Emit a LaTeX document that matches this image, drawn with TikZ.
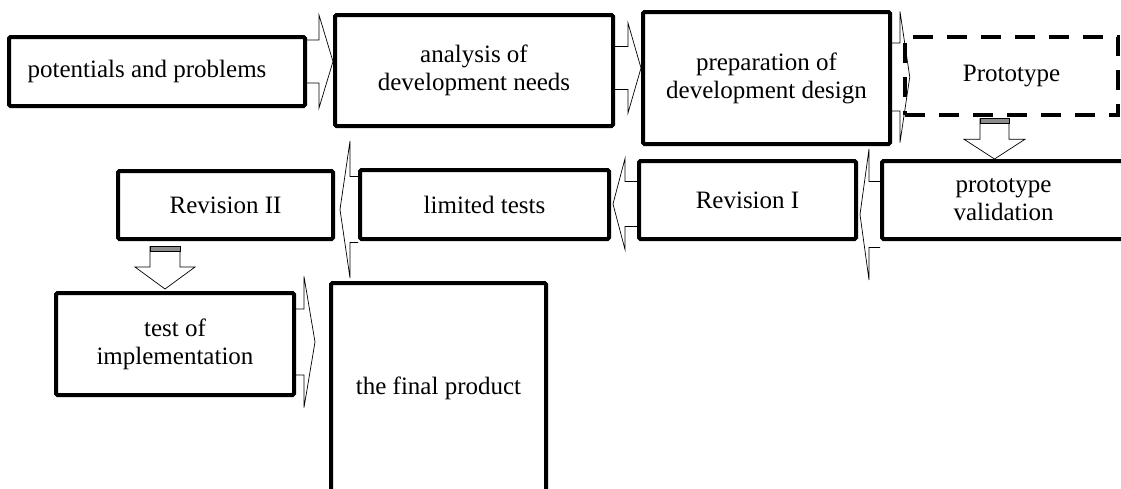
\documentclass[tikz,border=0pt]{standalone}
\usepackage{fontspec}
\setmainfont{Liberation Serif}
\usetikzlibrary{calc}
\pgfdeclarelayer{background}
\pgfsetlayers{background,main}

% block arrow pointing right: from, to, y centre, shaft half width, head half width, shaft length, gap at tip
\newcommand\arrowright[7]{%
  \coordinate (arr-s) at (#1.east |- 0,#3);
  \coordinate (arr-t) at (#2.west |- 0,#3);
  \draw[blockarrow] ($(arr-s)+(0,{-(#4)})$) -- ($(arr-s)+(#6,{-(#4)})$) -- ($(arr-s)+(#6,{-(#5)})$)
    -- ($(arr-t)+({-1*(#7)},0)$) -- ($(arr-s)+(#6,#5)$) -- ($(arr-s)+(#6,#4)$) -- ($(arr-s)+(0,#4)$);
}
% block arrow pointing left
\newcommand\arrowleft[7]{%
  \coordinate (arr-s) at (#1.west |- 0,#3);
  \coordinate (arr-t) at (#2.east |- 0,#3);
  \draw[blockarrow] ($(arr-s)+(0,{-(#4)})$) -- ($(arr-s)+({-1*(#6)},{-(#4)})$) -- ($(arr-s)+({-1*(#6)},{-(#5)})$)
    -- ($(arr-t)+(#7,0)$) -- ($(arr-s)+({-1*(#6)},#5)$) -- ($(arr-s)+({-1*(#6)},#4)$) -- ($(arr-s)+(0,#4)$);
}
% block arrow pointing down: from, to, x centre, shaft half width, head half width, start offset, shaft length, gap at tip
\newcommand\arrowdown[8]{%
  \coordinate (arr-s) at (#1.south -| #3,0);
  \coordinate (arr-t) at (#2.north -| #3,0);
  \draw[blockarrow] ($(arr-s)+({-(#4)},#6)$) -- ($(arr-s)+({-(#4)},#6+#7)$) -- ($(arr-s)+({-(#5)},#6+#7)$)
    -- ($(arr-t)+(0,{-1*(#8)})$) -- ($(arr-s)+(#5,#6+#7)$) -- ($(arr-s)+(#4,#6+#7)$) -- ($(arr-s)+(#4,#6)$);
  \draw[stripe] ($(arr-s)+({-(#4)},#6)$) rectangle ($(arr-s)+(#4,#6+5)$);
}

\begin{document}
\begin{tikzpicture}[x=1pt,y=-1pt,
  stage/.style={draw, line width=4pt, rounded corners=1.5pt, inner sep=0pt,
    align=center, font=\fontsize{25}{28}\selectfont},
  dashstage/.style={stage, rounded corners=0pt, line width=4.5pt, dash pattern=on 20pt off 14pt},
  blockarrow/.style={draw, fill=white, line width=0.7pt, line join=miter},
  stripe/.style={draw, fill=black!45, line width=0.6pt}]
\useasboundingbox (0,0) rectangle (1121,488);
\clip (0,0) rectangle (1121,488);

% process stages
\node[stage, minimum width=296pt, minimum height=69pt] (b1) at (157,71.5) {potentials and problems\hspace*{20pt}};
\node[stage, minimum width=278pt, minimum height=111pt] (b2) at (474,70.5) {analysis of\\development needs};
\node[stage, minimum width=247pt, minimum height=132pt] (b3) at (766.5,78) {preparation of\\development design};
\node[dashstage, minimum width=213pt, minimum height=78pt] (b4) at (1011.5,76) {Prototype};
\node[stage, minimum width=243pt, minimum height=78pt] (b5) at (1003.5,200) {prototype\\validation};
\node[stage, minimum width=217pt, minimum height=78pt] (b6) at (747.5,200) {Revision I};
\node[stage, minimum width=249pt, minimum height=69pt] (b7) at (484.5,204.5) {limited tests};
\node[stage, minimum width=215pt, minimum height=68pt] (b8) at (225.5,205) {Revision II};
\node[stage, minimum width=238pt, minimum height=102pt] (b9) at (175,344) {test of\\implementation};
\node[stage, minimum width=215pt, minimum height=210pt] (b10) at (438.5,388) {the final product};

% connecting block arrows, kept underneath the stages
\begin{pgfonlayer}{background}
\arrowright{b1}{b2}{61.5}{21.5}{46.5}{12}{0}
\arrowright{b2}{b3}{68}{21.5}{45}{13}{0}
\arrowright{b3}{b4}{77}{34}{65.5}{8}{-7}
\arrowdown{b4}{b5}{994.5}{14.5}{30.5}{1}{21}{0}
\arrowleft{b5}{b6}{214.5}{33}{65.5}{11}{2}
\arrowleft{b6}{b7}{204}{22.5}{45.5}{12}{2}
\arrowleft{b7}{b8}{209.5}{33}{68.5}{8}{5}
\arrowdown{b8}{b9}{165}{15}{30}{5}{21}{2}
\arrowright{b9}{b10}{342}{33}{65.5}{8}{14}
\end{pgfonlayer}
\end{tikzpicture}
\end{document}
